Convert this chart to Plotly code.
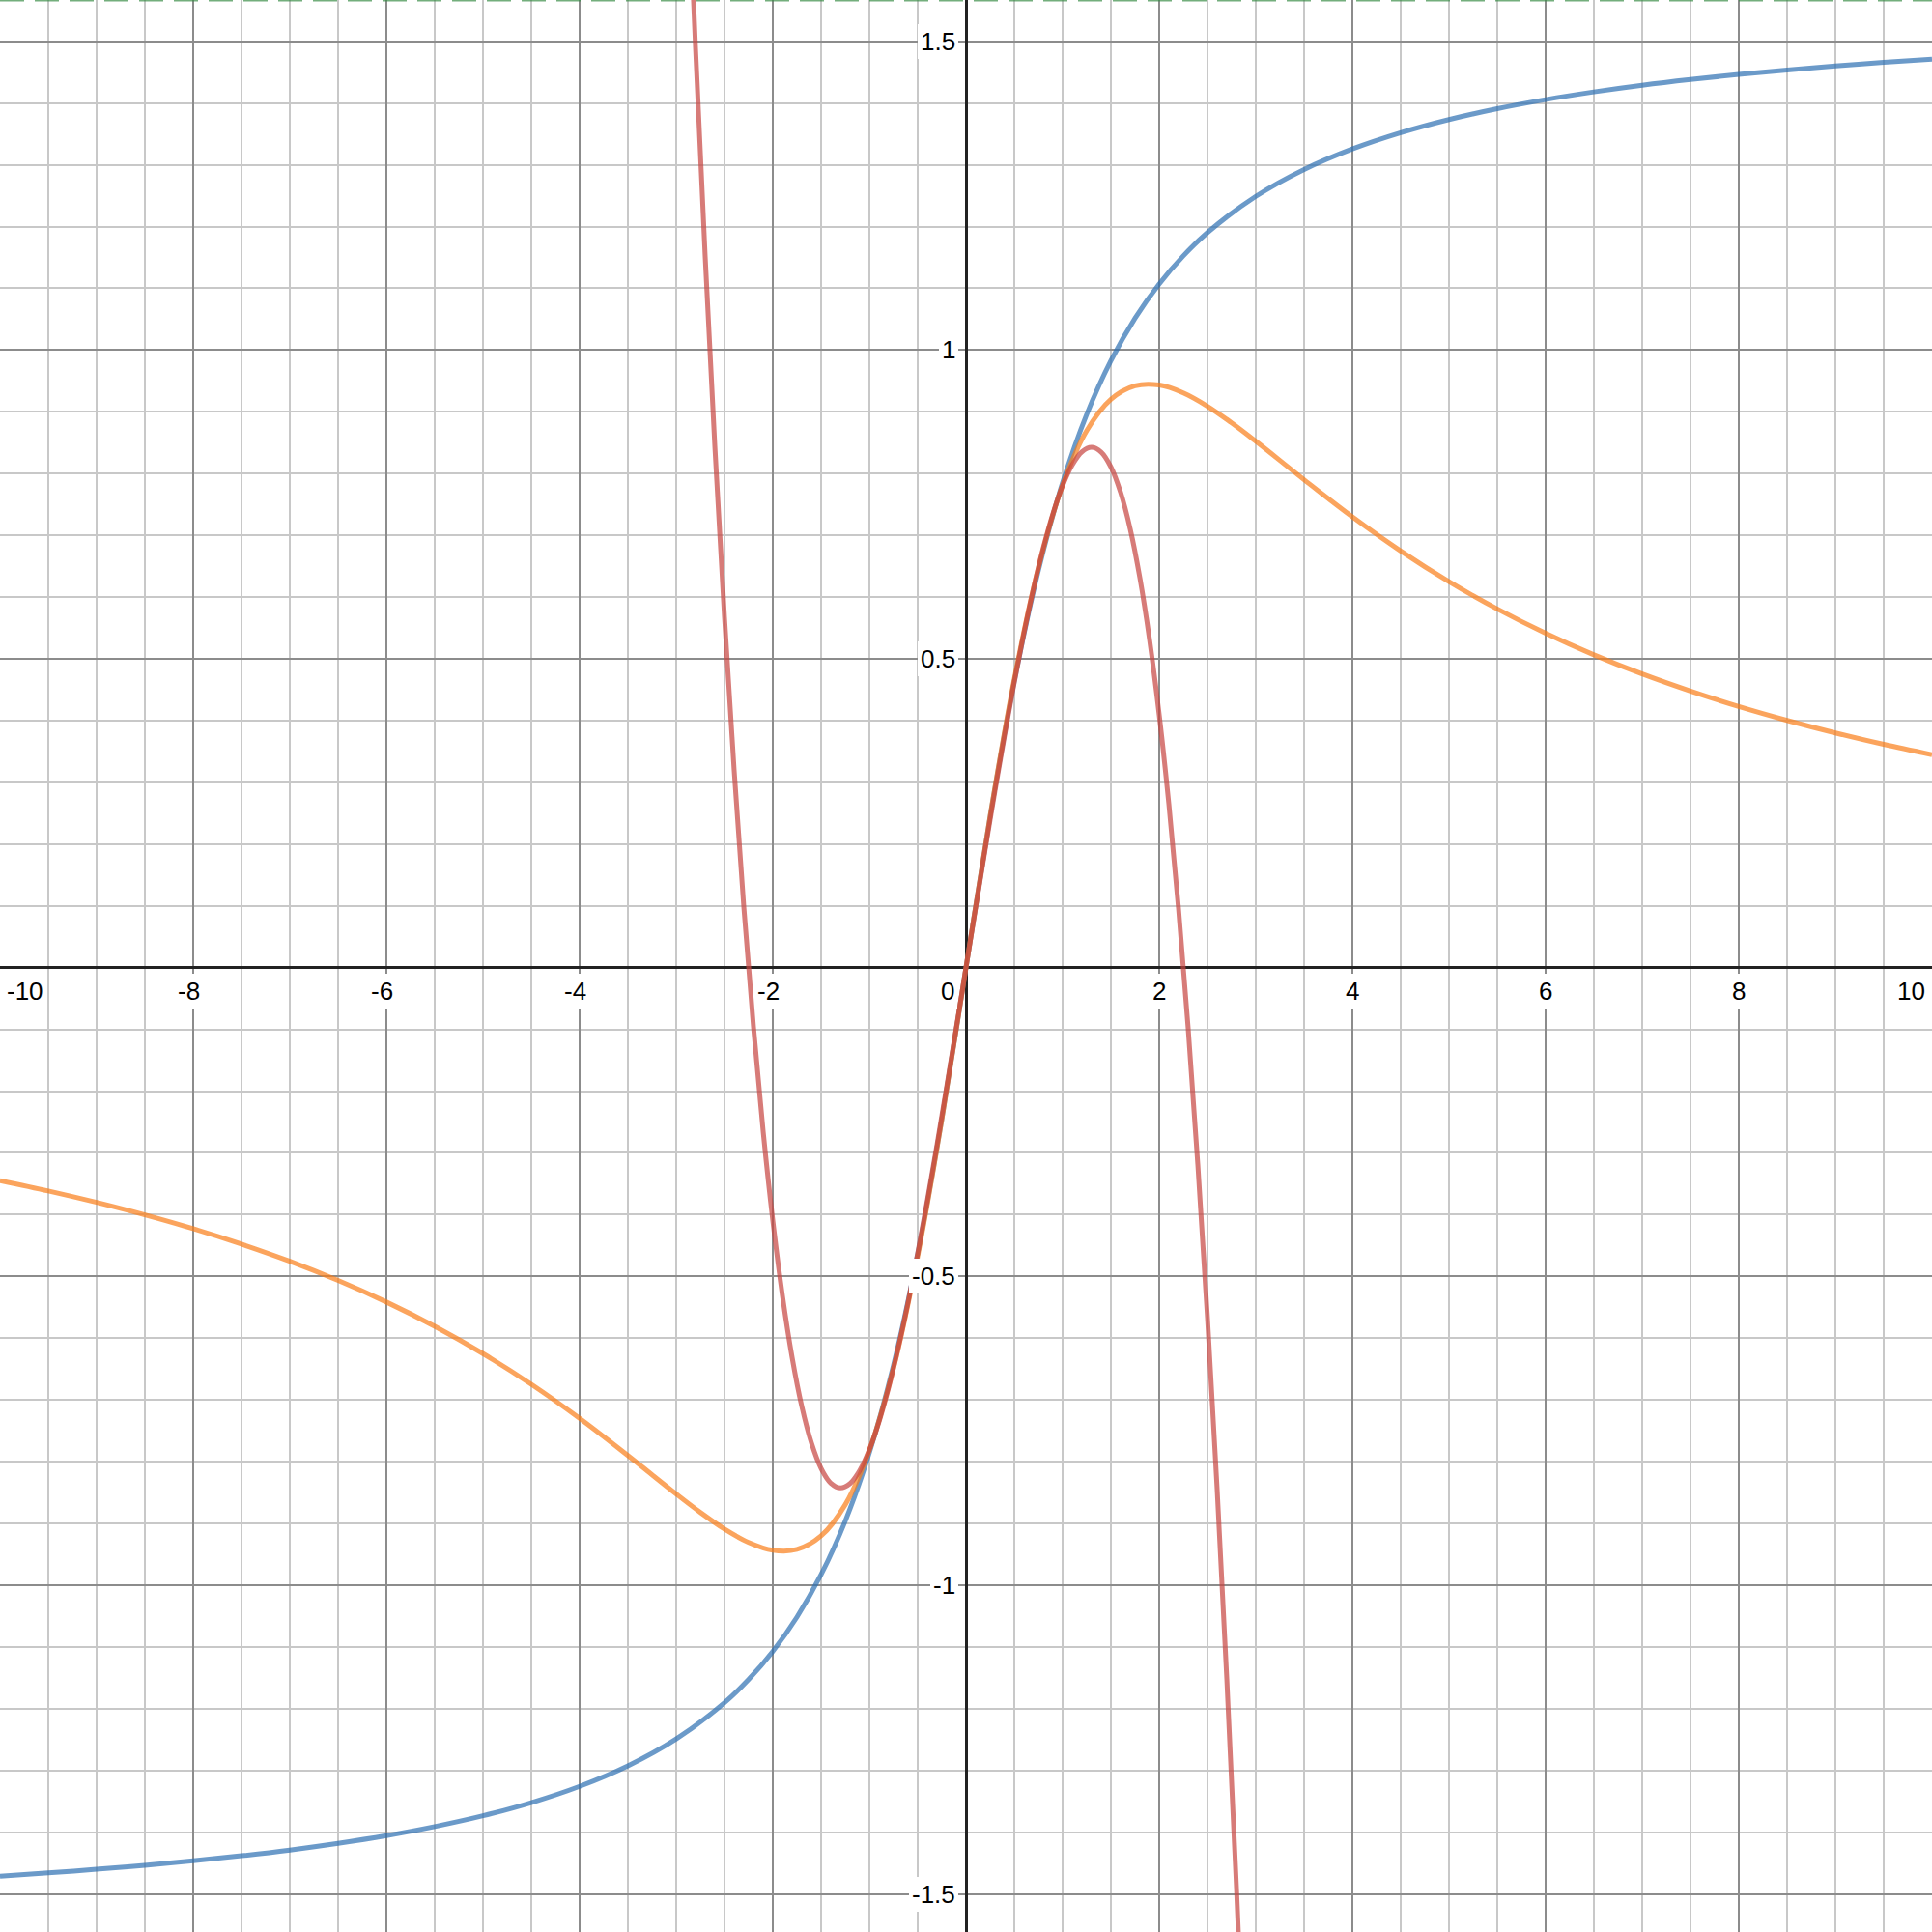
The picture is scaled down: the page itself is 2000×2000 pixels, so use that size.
import plotly.graph_objects as go

# ---- data ----
blue_x = [-10, -9.5, -9, -8.5, -8, -7.5, -7, -6.5, -6, -5.5, -5, -4.5, -4, -3.5, -3, -2.5, -2.25, -2,
          -1.75, -1.5, -1.25, -1, -0.75, -0.5, -0.25, 0, 0.25, 0.5, 0.75, 1, 1.25, 1.5, 1.75, 2,
          2.25, 2.5, 3, 3.5, 4, 4.5, 5, 5.5, 6, 6.5, 7, 7.5, 8, 8.5, 9, 9.5, 10]
blue_y = [-1.4711, -1.4659, -1.4601, -1.4536, -1.4464, -1.4382, -1.4289, -1.4181, -1.4056, -1.3909,
          -1.3734, -1.3521, -1.3258, -1.2925, -1.2490, -1.1903, -1.1526, -1.1071, -1.0517, -0.9828,
          -0.8961, -0.7854, -0.6435, -0.4636, -0.2450, 0.0, 0.2450, 0.4636, 0.6435, 0.7854, 0.8961,
          0.9828, 1.0517, 1.1071, 1.1526, 1.1903, 1.2490, 1.2925, 1.3258, 1.3521, 1.3734, 1.3909,
          1.4056, 1.4181, 1.4289, 1.4382, 1.4464, 1.4536, 1.4601, 1.4659, 1.4711]

orange_x = [-10, -9.5, -9, -8.5, -8, -7.5, -7, -6.5, -6, -5.5, -5, -4.5, -4, -3.5, -3, -2.75, -2.5,
            -2.25, -2, -1.75, -1.5, -1.25, -1, -0.75, -0.5, -0.25, 0, 0.25, 0.5, 0.75, 1, 1.25, 1.5,
            1.75, 2, 2.25, 2.5, 2.75, 3, 3.5, 4, 4.5, 5, 5.5, 6, 6.5, 7, 7.5, 8, 8.5, 9, 9.5, 10]
orange_y = [-0.3448, -0.3616, -0.3801, -0.4004, -0.4228, -0.4478, -0.4755, -0.5066, -0.5415, -0.5808,
            -0.6250, -0.6747, -0.7299, -0.7901, -0.8523, -0.8821, -0.9091, -0.9307, -0.9434, -0.9421,
            -0.9202, -0.8696, -0.7813, -0.6479, -0.4673, -0.2457, 0.0, 0.2457, 0.4673, 0.6479, 0.7813,
            0.8696, 0.9202, 0.9421, 0.9434, 0.9307, 0.9091, 0.8821, 0.8523, 0.7901, 0.7299, 0.6747,
            0.6250, 0.5808, 0.5415, 0.5066, 0.4755, 0.4478, 0.4228, 0.4004, 0.3801, 0.3616, 0.3448]

red_x = [-2.9, -2.8, -2.7, -2.6, -2.5, -2.4, -2.3, -2.2, -2.1, -2.0, -1.9, -1.8, -1.7, -1.6, -1.5,
         -1.4, -1.3, -1.2, -1.1, -1.0, -0.9, -0.8, -0.7, -0.6, -0.5, -0.4, -0.3, -0.2, -0.1, 0.0,
         0.1, 0.2, 0.3, 0.4, 0.5, 0.6, 0.7, 0.8, 0.9, 1.0, 1.1, 1.2, 1.3, 1.4, 1.5,
         1.6, 1.7, 1.8, 1.9, 2.0, 2.1, 2.2, 2.3, 2.4, 2.5, 2.6, 2.7, 2.8, 2.9]
red_y = [1.8603, 1.4899, 1.1517, 0.8446, 0.5674, 0.3191, 0.0983, -0.0959, -0.2649, -0.4096,
         -0.5313, -0.6312, -0.7103, -0.7698, -0.8109, -0.8348, -0.8425, -0.8353, -0.8142, -0.7805,
         -0.7353, -0.6797, -0.6149, -0.5420, -0.4622, -0.3767, -0.2865, -0.1929, -0.0970, 0.0,
         0.0970, 0.1929, 0.2865, 0.3767, 0.4622, 0.5420, 0.6149, 0.6797, 0.7353, 0.7805,
         0.8142, 0.8353, 0.8425, 0.8348, 0.8109, 0.7698, 0.7103, 0.6312, 0.5313, 0.4096,
         0.2649, 0.0959, -0.0983, -0.3191, -0.5674, -0.8446, -1.1517, -1.4899, -1.8603]

asym_x = [-10, 10]
asym_y = [1.5708, 1.5708]

x_tick_vals = [-10, -8, -6, -4, -2, 0, 2, 4, 6, 8, 10]
x_tick_text = ["-10", "-8", "-6", "-4", "-2", "0", "2", "4", "6", "8", "10"]
y_tick_vals = [1.5, 1, 0.5, -0.5, -1, -1.5]
y_tick_text = ["1.5", "1", "0.5", "-0.5", "-1", "-1.5"]

X_RANGE = [-10, 10]
Y_RANGE = [-1.5616, 1.5669]

fig = go.Figure()
fig.add_trace(go.Scatter(x=blue_x, y=blue_y, mode="lines", line=dict(color="#2d70b3", width=5, shape="spline"),
                         opacity=0.7, hoverinfo="skip"))
fig.add_trace(go.Scatter(x=asym_x, y=asym_y, mode="lines",
                         line=dict(color="#388c46", width=8, dash="25px,11px"),
                         opacity=0.7, hoverinfo="skip"))
fig.add_trace(go.Scatter(x=orange_x, y=orange_y, mode="lines", line=dict(color="#fa7e19", width=5, shape="spline"),
                         opacity=0.7, hoverinfo="skip"))
fig.add_trace(go.Scatter(x=red_x, y=red_y, mode="lines", line=dict(color="#c74440", width=5, shape="spline"),
                         opacity=0.7, hoverinfo="skip"))

font = dict(family="Liberation Sans, Arial, sans-serif", size=26, color="#000000")
annotations = []
for v, t in zip(x_tick_vals, x_tick_text):
    a = dict(x=v, y=0, xref="x", yref="y", text=t, showarrow=False, font=font,
             bgcolor="white", borderpad=3, borderwidth=0, yanchor="middle", yshift=-24)
    if v == X_RANGE[0]:
        a.update(xanchor="left", xshift=4)
    elif v == X_RANGE[1]:
        a.update(xanchor="right", xshift=-4)
    elif v == 0:
        a.update(xanchor="center", xshift=-19)
    else:
        a.update(xanchor="center", xshift=-5 if v < 0 else 0)
    annotations.append(a)
for v, t in zip(y_tick_vals, y_tick_text):
    annotations.append(dict(x=0, y=v, xref="x", yref="y", text=t, showarrow=False, font=font,
                            bgcolor="white", borderpad=3, borderwidth=0,
                            xanchor="right", yanchor="middle", xshift=-8))

fig.update_layout(
    width=2000, height=2000,
    margin=dict(l=0, r=0, t=0, b=0),
    paper_bgcolor="white", plot_bgcolor="white",
    showlegend=False,
    annotations=annotations,
    xaxis=dict(range=X_RANGE, tick0=0, dtick=2, showticklabels=False, ticks="",
               showgrid=True, gridcolor="#8c8c8c", gridwidth=2,
               minor=dict(tick0=0, dtick=0.5, showgrid=True, gridcolor="#c8c8c8", gridwidth=2),
               zeroline=True, zerolinecolor="#222222", zerolinewidth=3, showline=False, fixedrange=True),
    yaxis=dict(range=Y_RANGE, tick0=0, dtick=0.5, showticklabels=False, ticks="",
               showgrid=True, gridcolor="#8c8c8c", gridwidth=2,
               minor=dict(tick0=0, dtick=0.1, showgrid=True, gridcolor="#c8c8c8", gridwidth=2),
               zeroline=True, zerolinecolor="#222222", zerolinewidth=3, showline=False, fixedrange=True),
)

fig.write_html("out.html", config={"displayModeBar": False},
               post_script="document.body.style.margin='0px';document.body.style.overflow='hidden';")
